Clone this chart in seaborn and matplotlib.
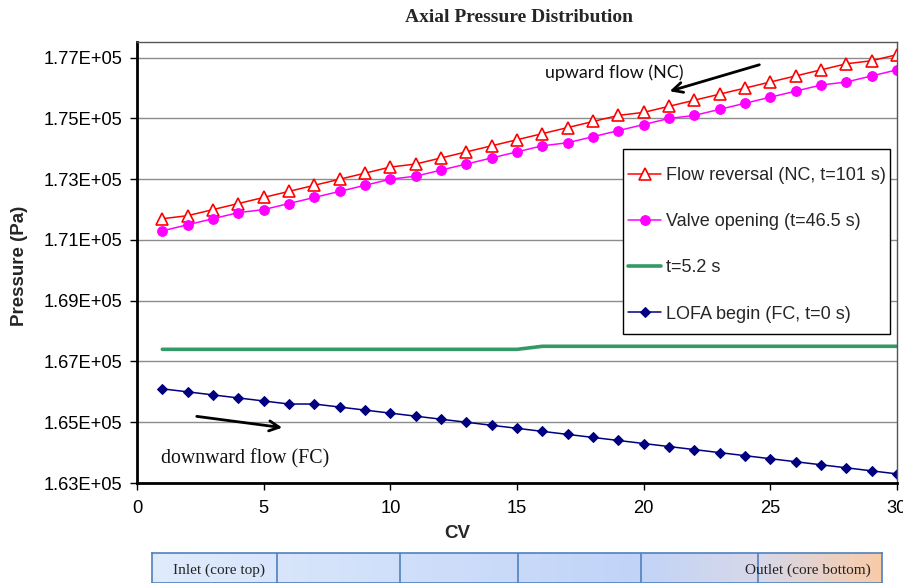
import numpy as np
import pandas as pd
import matplotlib
matplotlib.use("Agg")
import matplotlib.pyplot as plt
from matplotlib.patches import Rectangle
import seaborn as sns

# Control volumes along the core
cv = list(range(1, 31))

# Axial pressure (Pa) at each control volume
flow_reversal = [171700, 171800, 172000, 172200, 172400, 172600, 172800, 173000, 173200, 173400,
                 173500, 173700, 173900, 174100, 174300, 174500, 174700, 174900, 175100, 175200,
                 175400, 175600, 175800, 176000, 176200, 176400, 176600, 176800, 176900, 177100]
valve_opening = [171300, 171500, 171700, 171900, 172000, 172200, 172400, 172600, 172800, 173000,
                 173100, 173300, 173500, 173700, 173900, 174100, 174200, 174400, 174600, 174800,
                 175000, 175100, 175300, 175500, 175700, 175900, 176100, 176200, 176400, 176600]
t_5_2 = [167400, 167400, 167400, 167400, 167400, 167400, 167400, 167400, 167400, 167400,
         167400, 167400, 167400, 167400, 167400, 167500, 167500, 167500, 167500, 167500,
         167500, 167500, 167500, 167500, 167500, 167500, 167500, 167500, 167500, 167500]
lofa_begin = [166100, 166000, 165900, 165800, 165700, 165600, 165600, 165500, 165400, 165300,
              165200, 165100, 165000, 164900, 164800, 164700, 164600, 164500, 164400, 164300,
              164200, 164100, 164000, 163900, 163800, 163700, 163600, 163500, 163400, 163300]

series_labels = ["Flow reversal (NC, t=101 s)", "Valve opening (t=46.5 s)",
                 "t=5.2 s", "LOFA begin (FC, t=0 s)"]
x_ticks = [0, 5, 10, 15, 20, 25, 30]
y_ticks = [163000, 165000, 167000, 169000, 171000, 173000, 175000, 177000]

bar_edges = [152, 277, 400, 518, 641, 758, 882]

sns.set_theme(style="white")
plt.rcParams["font.family"] = ["Liberation Sans", "DejaVu Sans"]

W, H = 904, 583
fig = plt.figure(figsize=(W / 100, H / 100), dpi=100)


def fx(px):
    return px / W


def fy(py):
    return 1 - py / H


ax = fig.add_axes([fx(137), fy(483), fx(897) - fx(137), fy(42) - fy(483)])

df = pd.DataFrame({"CV": cv, "fr": flow_reversal, "vo": valve_opening,
                   "t52": t_5_2, "lofa": lofa_begin})

sns.lineplot(data=df, x="CV", y="fr", ax=ax, color="#ff0000", lw=1.1,
             marker="^", markersize=8, markerfacecolor="white",
             markeredgecolor="#ff0000", markeredgewidth=1.2, label=series_labels[0])
sns.lineplot(data=df, x="CV", y="vo", ax=ax, color="#ff00ff", lw=1.1,
             marker="o", markersize=7, markerfacecolor="#ff00ff",
             markeredgecolor="#ff00ff", label=series_labels[1])
sns.lineplot(data=df, x="CV", y="t52", ax=ax, color="#339966", lw=2.6,
             label=series_labels[2])
sns.lineplot(data=df, x="CV", y="lofa", ax=ax, color="#000080", lw=1.1,
             marker="D", markersize=5.5, markerfacecolor="#000080",
             markeredgecolor="#000080", label=series_labels[3])

ax.set_xlim(0, 30)
ax.set_ylim(163000, 177517)
ax.set_xticks(x_ticks)
ax.set_yticks(y_ticks)
ax.set_yticklabels([f"{v:.2E}" for v in y_ticks])
ax.set_xlabel("")
ax.set_ylabel("")
ax.set_axisbelow(True)
ax.yaxis.grid(True, color="#8c8c8c", lw=1)
ax.xaxis.grid(False)
ax.tick_params(axis="both", which="major", labelsize=13.2, colors="black",
               length=5, width=1, direction="out")
ax.tick_params(axis="y", pad=5.5)
ax.tick_params(axis="x", pad=7)
ax.tick_params(left=True, bottom=True)

for side in ("left", "bottom"):
    ax.spines[side].set_color("black")
    ax.spines[side].set_linewidth(2)
for side in ("top", "right"):
    ax.spines[side].set_color("#555555")
    ax.spines[side].set_linewidth(1)

# Legend frame drawn as its own box
ax.add_patch(Rectangle((fx(623), fy(334)), fx(890) - fx(623), fy(149) - fy(334),
                       transform=fig.transFigure, facecolor="white",
                       edgecolor="black", lw=1, zorder=4))
leg = ax.legend(loc="upper left", bbox_to_anchor=(fx(628), fy(167)),
                bbox_transform=fig.transFigure, frameon=False, fontsize=13,
                borderpad=0, borderaxespad=0, handlelength=1.85,
                handletextpad=0.25, labelspacing=1.62)
leg.set_zorder(5)

# Titles and axis labels
fig.text(fx(519), fy(18), "Axial Pressure Distribution", ha="center", va="center",
         fontsize=14, fontweight="bold", family=["Liberation Serif", "DejaVu Serif"])
fig.text(fx(20), fy(266), "Pressure (Pa)", ha="center", va="center", rotation=90,
         fontsize=13.5, fontweight="bold")
fig.text(fx(457), fy(533), "CV", ha="center", va="center", fontsize=13.5,
         fontweight="bold")

# Flow direction notes
fig.text(fx(545), fy(73), "upward flow (NC)", ha="left", va="center",
         fontsize=12.9, family=["Lato", "DejaVu Sans"], color="#111111")
ax.annotate("", xy=(fx(667), fy(92)), xytext=(fx(762), fy(64)),
            xycoords="figure fraction", textcoords="figure fraction",
            arrowprops=dict(arrowstyle="->", lw=2, color="black", mutation_scale=18))
fig.text(fx(161), fy(459), "downward flow (FC)", ha="left", va="center",
         fontsize=14.3, family=["Liberation Serif", "DejaVu Serif"], color="#111111")
ax.annotate("", xy=(fx(285), fy(428)), xytext=(fx(194), fy(416)),
            xycoords="figure fraction", textcoords="figure fraction",
            arrowprops=dict(arrowstyle="->", lw=2, color="black", mutation_scale=18))

# Core schematic strip below the axis
bax = fig.add_axes([fx(152), fy(582.5), fx(882) - fx(152), fy(553) - fy(582.5)])
stops = [0.0, 0.66, 0.84, 1.0]
cols = np.array([[224, 235, 252], [193, 212, 248], [216, 216, 232], [249, 203, 168]]) / 255
pos = np.linspace(0, 1, 400)
grad = np.stack([np.interp(pos, stops, cols[:, k]) for k in range(3)], axis=-1)[None, :, :]
bax.imshow(grad, extent=(0, 1, 0, 1), aspect="auto")
bax.set_xlim(0, 1)
bax.set_ylim(0, 1)
bax.set_xticks([])
bax.set_yticks([])
for s in bax.spines.values():
    s.set_color("#4f81bd")
    s.set_linewidth(1.2)
for e in bar_edges[1:-1]:
    bax.axvline((e - bar_edges[0]) / (bar_edges[-1] - bar_edges[0]),
                color="#4f81bd", lw=1.2)
fig.text(fx(173), fy(570), "Inlet (core top)", ha="left", va="center",
         fontsize=11, family=["Liberation Serif", "DejaVu Serif"], color="#222222")
fig.text(fx(871), fy(570), "Outlet (core bottom)", ha="right", va="center",
         fontsize=11, family=["Liberation Serif", "DejaVu Serif"], color="#222222")

fig.savefig("out.png", dpi=100)
